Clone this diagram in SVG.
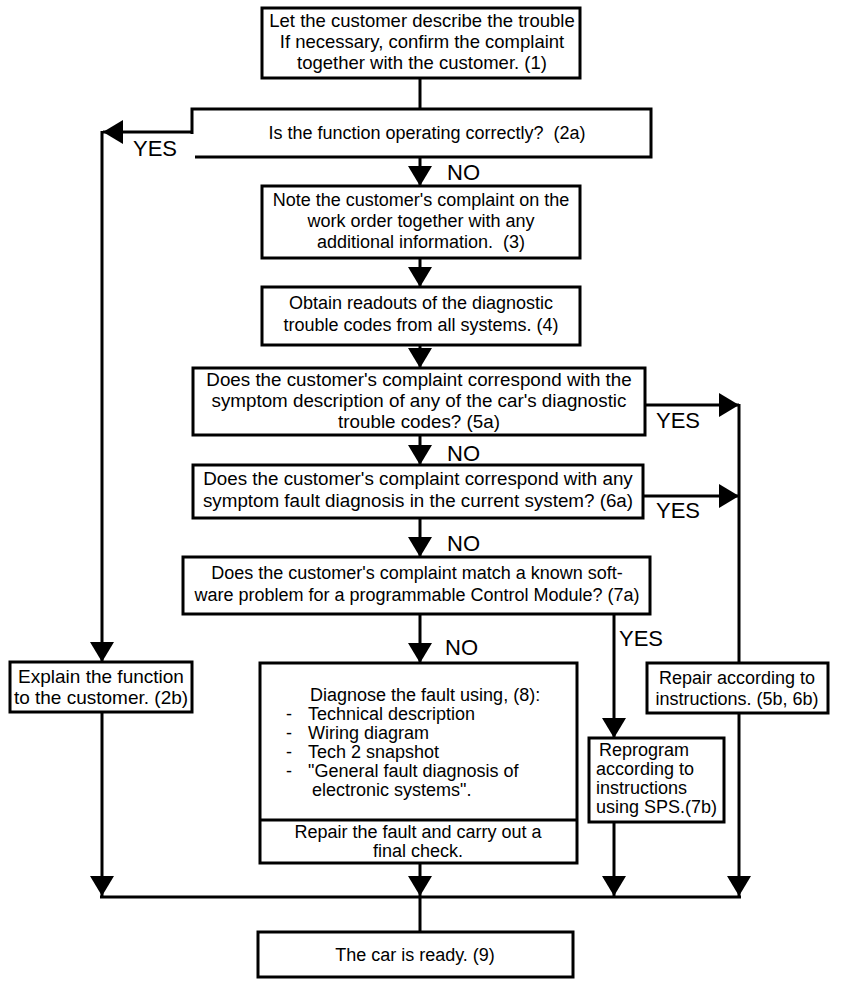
<svg xmlns="http://www.w3.org/2000/svg" width="864" height="986" viewBox="0 0 864 986">
<defs>
<style>
.box{fill:#fff;stroke:#000;stroke-width:3}
.t{font-family:"Liberation Sans",Arial,sans-serif;font-size:18px;fill:#000}
.b{font-size:18.8px}
.c{text-anchor:middle}
.lbl{font-family:"Liberation Sans",Arial,sans-serif;font-size:22px;fill:#000}
.ln{fill:none;stroke:#000;stroke-width:3}
</style>
<marker id="ah" markerUnits="userSpaceOnUse" markerWidth="20" markerHeight="24" refX="20" refY="12" orient="auto" viewBox="0 0 20 24">
<path d="M0,0 L20,12 L0,24 z" fill="#000"/>
</marker>
</defs>
<rect width="864" height="986" fill="#fff"/>

<g id="connectors">
<line class="ln" x1="420" y1="78" x2="420" y2="109"/>
<line class="ln" x1="192" y1="132" x2="103" y2="132" marker-end="url(#ah)"/>
<line class="ln" x1="102" y1="131" x2="102" y2="662" marker-end="url(#ah)"/>
<line class="ln" x1="420" y1="157" x2="420" y2="186" marker-end="url(#ah)"/>
<line class="ln" x1="420" y1="258" x2="420" y2="287" marker-end="url(#ah)"/>
<line class="ln" x1="420" y1="345" x2="420" y2="368" marker-end="url(#ah)"/>
<line class="ln" x1="420" y1="435" x2="420" y2="465" marker-end="url(#ah)"/>
<line class="ln" x1="420" y1="518" x2="420" y2="557" marker-end="url(#ah)"/>
<line class="ln" x1="420" y1="614" x2="420" y2="663" marker-end="url(#ah)"/>
<line class="ln" x1="645" y1="405" x2="739" y2="405" marker-end="url(#ah)"/>
<line class="ln" x1="643" y1="496" x2="739" y2="496" marker-end="url(#ah)"/>
<line class="ln" x1="739" y1="404" x2="739" y2="663"/>
<line class="ln" x1="614" y1="614" x2="614" y2="738" marker-end="url(#ah)"/>
<line class="ln" x1="102" y1="712" x2="102" y2="896" marker-end="url(#ah)"/>
<line class="ln" x1="420" y1="863" x2="420" y2="896" marker-end="url(#ah)"/>
<line class="ln" x1="614" y1="822" x2="614" y2="896" marker-end="url(#ah)"/>
<line class="ln" x1="739" y1="713" x2="739" y2="896" marker-end="url(#ah)"/>
<line class="ln" x1="100" y1="897" x2="741" y2="897"/>
<line class="ln" x1="420" y1="897" x2="420" y2="932"/>
<text class="lbl" x="133" y="156">YES</text>
<text class="lbl" x="447" y="180">NO</text>
<text class="lbl" x="656" y="428">YES</text>
<text class="lbl" x="447" y="461">NO</text>
<text class="lbl" x="656" y="518">YES</text>
<text class="lbl" x="447" y="551">NO</text>
<text class="lbl" x="445" y="655">NO</text>
<text class="lbl" x="619" y="646">YES</text>
</g>

<g id="n1">
<rect class="box" x="262" y="8" width="318" height="70"/>
<text class="t c" x="422" y="27" style="font-size:18.5px">Let the customer describe the trouble</text>
<text class="t c" x="422" y="48" style="font-size:18.5px">If necessary, confirm the complaint</text>
<text class="t c" x="422" y="69" style="font-size:18.5px">together with the customer. (1)</text>
</g>

<g id="n2a">
<path d="M192,134 V109 H651 V157 H195" fill="none" stroke="#000" stroke-width="3"/>
<text class="t c" x="427" y="139" xml:space="preserve">Is the function operating correctly?  (2a)</text>
</g>

<g id="n3">
<rect class="box" x="262" y="186" width="318" height="72"/>
<text class="t c" x="421" y="206">Note the customer's complaint on the</text>
<text class="t c" x="421" y="227">work order together with any</text>
<text class="t c" x="421" y="248" xml:space="preserve">additional information.  (3)</text>
</g>

<g id="n4">
<rect class="box" x="262" y="287" width="318" height="58"/>
<text class="t c" x="421" y="309">Obtain readouts of the diagnostic</text>
<text class="t c" x="421" y="331">trouble codes from all systems. (4)</text>
</g>

<g id="n5a">
<rect class="box" x="193" y="368" width="452" height="67"/>
<text class="t b c" x="419" y="386">Does the customer's complaint correspond with the</text>
<text class="t b c" x="419" y="407">symptom description of any of the car's diagnostic</text>
<text class="t b c" x="419" y="428">trouble codes? (5a)</text>
</g>

<g id="n6a">
<rect class="box" x="193" y="465" width="450" height="53"/>
<text class="t b c" x="418" y="485">Does the customer's complaint correspond with any</text>
<text class="t b c" x="418" y="507">symptom fault diagnosis in the current system? (6a)</text>
</g>

<g id="n7a">
<rect class="box" x="183" y="557" width="467" height="57"/>
<text class="t c" x="417" y="579">Does the customer's complaint match a known soft-</text>
<text class="t c" x="417" y="601">ware problem for a programmable Control Module? (7a)</text>
</g>

<g id="n2b">
<rect class="box" x="10" y="662" width="182" height="50"/>
<text class="t c" x="101" y="683" style="font-size:19px">Explain the function</text>
<text class="t c" x="101" y="704" style="font-size:19px">to the customer. (2b)</text>
</g>

<g id="n8">
<rect class="box" x="260" y="663" width="317" height="200"/>
<line class="ln" x1="260" y1="820" x2="577" y2="820"/>
<text class="t" x="310" y="701">Diagnose the fault using, (8):</text>
<text class="t" x="286" y="720">-</text><text class="t" x="308" y="720">Technical description</text>
<text class="t" x="286" y="739">-</text><text class="t" x="308" y="739">Wiring diagram</text>
<text class="t" x="286" y="758">-</text><text class="t" x="308" y="758">Tech 2 snapshot</text>
<text class="t" x="286" y="777">-</text><text class="t" x="308" y="777">"General fault diagnosis of</text>
<text class="t" x="312" y="796">electronic systems".</text>
<text class="t c" x="418" y="838">Repair the fault and carry out a</text>
<text class="t c" x="418" y="857">final check.</text>
</g>

<g id="n5b6b">
<rect class="box" x="647" y="663" width="181" height="50"/>
<text class="t c" x="737" y="684">Repair according to</text>
<text class="t c" x="737" y="705">instructions. (5b, 6b)</text>
</g>

<g id="n7b">
<rect class="box" x="589" y="738" width="135" height="84"/>
<text class="t" x="599" y="756">Reprogram</text>
<text class="t" x="596" y="775">according to</text>
<text class="t" x="596" y="794">instructions</text>
<text class="t" x="596" y="813">using SPS.(7b)</text>
</g>

<g id="n9">
<rect class="box" x="258" y="932" width="315" height="45"/>
<text class="t c" x="415" y="961">The car is ready. (9)</text>
</g>
</svg>
